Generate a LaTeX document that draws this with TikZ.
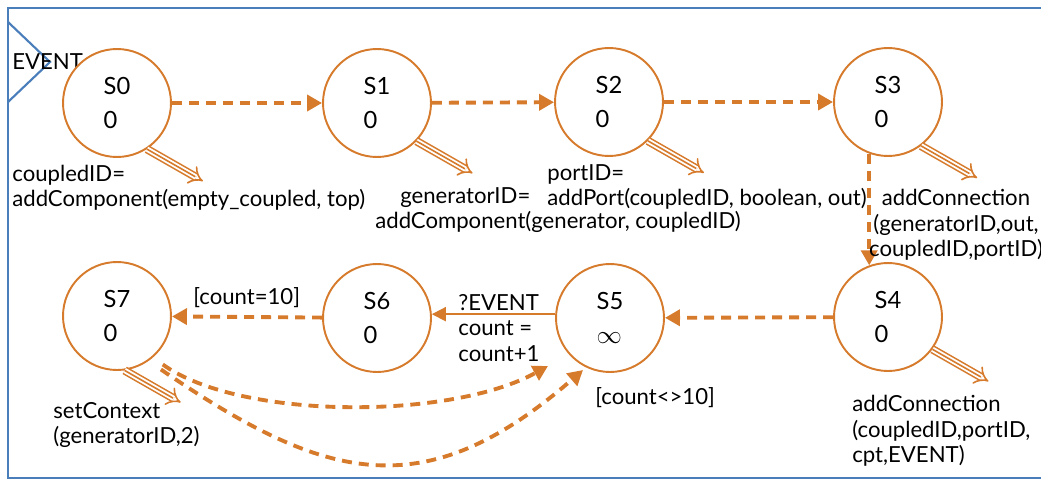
\documentclass[tikz,border=0pt]{standalone}
\usepackage{fontspec}
\setmainfont{Lato}
\usetikzlibrary{arrows.meta}
\definecolor{stateorange}{RGB}{214,122,44}
\definecolor{frameblue}{RGB}{74,126,187}

% triple line arrow for the output functions
\newcommand\outarrow[1]{%
  \draw[stateorange,line width=0.9pt,double=white,double distance=3pt,
    -{Implies[]}] (#1) -- ++(56,32);
  \draw[stateorange,line width=0.9pt,shorten >=5pt] (#1) -- ++(56,32);}

\begin{document}
\begin{tikzpicture}[x=0.02cm,y=-0.02cm,
  state/.style={circle,draw=stateorange,line width=1.1pt,fill=white,
    minimum size=2.16cm,inner sep=0pt,align=left,
    font=\fontsize{13.5}{19.5}\selectfont},
  trans/.style={draw=stateorange,line width=2.2pt,
    dash pattern=on 0.2cm off 0.14cm,
    -{Triangle[length=0.3cm,width=0.32cm]}},
  event/.style={draw=stateorange,line width=1.1pt,
    -{Triangle[length=0.28cm,width=0.28cm]}},
  lbl/.style={inner sep=0pt,anchor=west,align=left,
    font=\fontsize{12.6}{14.4}\selectfont}]
\useasboundingbox (0,0) rectangle (1041,480);

% Frame and input port
\draw[frameblue,line width=1.4pt] (1041,8) -- (8,8) -- (8,478) -- (1041,478);
\draw[frameblue,line width=1.2pt] (8,22) -- (50,62) -- (8,102);
\node[lbl] (ev) at (12,62) {EVENT};

% The states
\node[state] (S0) at (117,103) {S0\\0};
\node[state] (S1) at (377,103) {S1\\0};
\node[state] (S2) at (609,102) {S2\\0};
\node[state] (S3) at (888,102) {S3\\0};
\node[state] (S4) at (888,317) {S4\\0};
\node[state] (S5) at (610,318) {S5\\$\infty$};
\node[state] (S6) at (377,318) {S6\\0};
\node[state] (S7) at (117,316) {S7\\0};

% Internal transitions
\draw[trans] (S0) -- (S1);
\draw[trans] (S1) -- (S2);
\draw[trans] (S2) -- (S3);
\draw[trans] (S3.250) -- (S4.110);
\draw[trans] (S4) -- (S5);
\draw[trans] (S6) -- (S7);
\node[lbl] (g7) at (193,298) {[count=10]};

% External transition
\draw[event] (S5.176) -- (S6.4);
\node[lbl] (x5) at (458,328) {?EVENT\\count =\\count+1};

% Back to S5
\coordinate (T1) at (548,366);
\coordinate (T2) at (583,370);
\draw[trans,shorten <=0.24cm] (S7.311) .. controls (240,420) and (450,420) .. (T1);
\draw[trans,shorten <=0.3cm] (S7.305) .. controls (323,480) and (422,510) .. (T2);
\node[lbl] (g5) at (595,398) {[count<>10]};

% Output functions
\outarrow{S0.303}
\outarrow{S1.316}
\outarrow{S2.315}
\outarrow{S3.307}
\outarrow{S4.324}
\outarrow{S7.278}

\node[lbl] (o0) at (12,188) {coupledID=\\addComponent(empty\_coupled, top)};
\node[lbl] (o1) at (375,210) {\hspace*{0.5cm}generatorID=\\addComponent(generator, coupledID)};
\node[lbl] (o2) at (547,187) {portID=\\addPort(coupledID, boolean, out)};
\node[lbl,anchor=center,align=center] (o3) at (956,225)
  {addConnection\\(generatorID,out,\\coupledID,portID)};
\node[lbl] (o4) at (852,431) {addConnection\\(coupledID,portID,\\cpt,EVENT)};
\node[lbl] (o7) at (53,425) {setContext\\(generatorID,2)};
\end{tikzpicture}
\end{document}
